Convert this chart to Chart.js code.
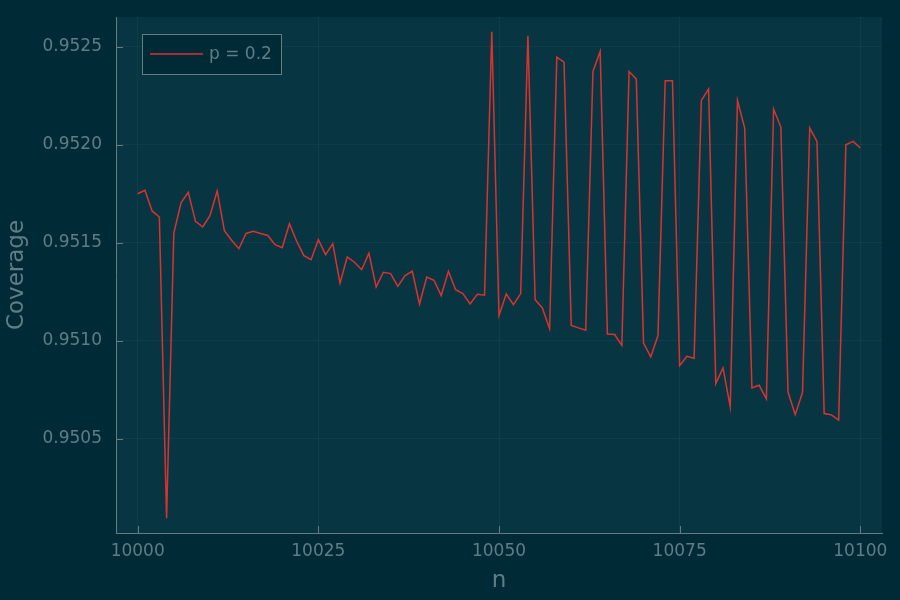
<!DOCTYPE html>
<html>
<head>
<meta charset="utf-8">
<title>Coverage</title>
<script src="https://cdn.jsdelivr.net/npm/chart.js@4.4.1/dist/chart.umd.min.js"></script>
<style>
    html, body { margin:0; padding:0; background:#002b36; }
    canvas { display:block; }
</style>
</head>
<body>
<canvas id="chart" width="900" height="600"></canvas>
<script>

// sample sizes n
const nValues = [
    10000,10001,10002,10003,10004,10005,10006,10007,10008,10009,
    10010,10011,10012,10013,10014,10015,10016,10017,10018,10019,
    10020,10021,10022,10023,10024,10025,10026,10027,10028,10029,
    10030,10031,10032,10033,10034,10035,10036,10037,10038,10039,
    10040,10041,10042,10043,10044,10045,10046,10047,10048,10049,
    10050,10051,10052,10053,10054,10055,10056,10057,10058,10059,
    10060,10061,10062,10063,10064,10065,10066,10067,10068,10069,
    10070,10071,10072,10073,10074,10075,10076,10077,10078,10079,
    10080,10081,10082,10083,10084,10085,10086,10087,10088,10089,
    10090,10091,10092,10093,10094,10095,10096,10097,10098,10099,
    10100
];

// coverage for p = 0.2
const coverage = [
    0.951750,0.951767,0.951662,0.951631,0.950093,0.951549,0.951703,0.951757,0.951609,0.951580,
    0.951638,0.951764,0.951561,0.951512,0.951469,0.951547,0.951558,0.951547,0.951537,0.951490,
    0.951474,0.951597,0.951507,0.951434,0.951413,0.951515,0.951439,0.951495,0.951293,0.951427,
    0.951400,0.951362,0.951446,0.951274,0.951349,0.951342,0.951277,0.951332,0.951354,0.951187,
    0.951325,0.951308,0.951230,0.951354,0.951260,0.951240,0.951187,0.951237,0.951232,0.952577,
    0.951128,0.951238,0.951184,0.951240,0.952556,0.951209,0.951167,0.951061,0.952447,0.952422,
    0.951078,0.951065,0.951053,0.952374,0.952476,0.951034,0.951031,0.950976,0.952374,0.952335,
    0.950988,0.950917,0.951026,0.952327,0.952327,0.950872,0.950920,0.950910,0.952226,0.952284,
    0.950781,0.950861,0.950662,0.952226,0.952085,0.950759,0.950772,0.950703,0.952182,0.952090,
    0.950736,0.950622,0.950736,0.952085,0.952017,0.950628,0.950621,0.950594,0.952000,0.952017,
    0.951983
];

const seriesLabel = "p = 0.2";

const xTicks = [10000, 10025, 10050, 10075, 10100];
const yTicks = [0.9505, 0.9510, 0.9515, 0.9520, 0.9525];


const textColor = "#5f7d85";
const axisColor = "#657b83";
const gridColor = "rgba(147,161,161,0.07)";
const lineColor = "#dc322f";
const fontFamily = "'DejaVu Sans', sans-serif";


// plot area background
const plotBackground = {
    id: "plotBackground",
    beforeDraw(chart){
        const a = chart.chartArea;
        const ctx = chart.ctx;
        ctx.save();
        ctx.fillStyle = "#073642";
        ctx.fillRect(a.left, a.top, a.right - a.left, a.bottom - a.top);
        ctx.restore();
    }
};


// short tick marks pointing into the plot
const innerTicks = {
    id: "innerTicks",
    afterDraw(chart){
        const ctx = chart.ctx;
        const a = chart.chartArea;
        const x = chart.scales.x;
        const y = chart.scales.y;
        ctx.save();
        ctx.strokeStyle = axisColor;
        ctx.lineWidth = 1;
        ctx.beginPath();
        xTicks.forEach(v => {
            const px = Math.round(x.getPixelForValue(v)) + 0.5;
            ctx.moveTo(px, a.bottom);
            ctx.lineTo(px, a.bottom - 7);
        });
        yTicks.forEach(v => {
            const py = Math.round(y.getPixelForValue(v)) + 0.5;
            ctx.moveTo(a.left, py);
            ctx.lineTo(a.left + 7, py);
        });
        ctx.stroke();
        ctx.restore();
    }
};


// legend box in the top left corner
const cornerLegend = {
    id: "cornerLegend",
    afterDraw(chart){
        const ctx = chart.ctx;
        const ds = chart.data.datasets[0];
        ctx.save();
        ctx.fillStyle = "#002b36";
        ctx.fillRect(142, 34, 139, 40);
        ctx.strokeStyle = axisColor;
        ctx.lineWidth = 1;
        ctx.strokeRect(142.5, 34.5, 139, 40);
        ctx.strokeStyle = ds.borderColor;
        ctx.lineWidth = 1.5;
        ctx.beginPath();
        ctx.moveTo(150, 54);
        ctx.lineTo(203, 54);
        ctx.stroke();
        ctx.fillStyle = textColor;
        ctx.font = "17px " + fontFamily;
        ctx.textBaseline = "middle";
        ctx.fillText(ds.label, 209, 55);
        ctx.restore();
    }
};


function drawChart(){

    const canvas = document.getElementById("chart");

    new Chart(canvas, {

        type: "line",

        data: {
            datasets: [
                {
                    label: seriesLabel,
                    data: nValues.map((n, i) => ({x: n, y: coverage[i]})),
                    borderColor: lineColor,
                    borderWidth: 1.5,
                    pointRadius: 0,
                    tension: 0,
                    fill: false
                }
            ]
        },

        options: {
            responsive: false,
            animation: false,
            devicePixelRatio: 1,
            layout: {
                padding: {left: 0, right: 18, top: 17, bottom: 0}
            },
            plugins: {
                legend: {display: false},
                tooltip: {enabled: false}
            },
            scales: {
                x: {
                    type: "linear",
                    min: 9997,
                    max: 10103,
                    afterBuildTicks: scale => {
                        scale.ticks = xTicks.map(v => ({value: v}));
                    },
                    afterFit: scale => {
                        scale.height = 67;
                        scale.paddingLeft = 0;
                        scale.paddingRight = 0;
                    },
                    ticks: {
                        color: textColor,
                        padding: 8,
                        maxRotation: 0,
                        font: {family: fontFamily, size: 17},
                        callback: v => String(v)
                    },
                    grid: {
                        color: gridColor,
                        drawTicks: false
                    },
                    border: {color: axisColor, width: 1},
                    title: {
                        display: true,
                        text: "n",
                        color: textColor,
                        font: {family: fontFamily, size: 23},
                        padding: {top: 0, bottom: 5}
                    }
                },
                y: {
                    min: 0.950018,
                    max: 0.952652,
                    afterBuildTicks: scale => {
                        scale.ticks = yTicks.map(v => ({value: v}));
                    },
                    afterFit: scale => {
                        scale.width = 116;
                        scale.paddingTop = 0;
                        scale.paddingBottom = 0;
                    },
                    ticks: {
                        color: textColor,
                        padding: 14,
                        font: {family: fontFamily, size: 17},
                        callback: v => v.toFixed(4)
                    },
                    grid: {
                        color: gridColor,
                        drawTicks: false
                    },
                    border: {color: axisColor, width: 1},
                    title: {
                        display: true,
                        text: "Coverage",
                        color: textColor,
                        font: {family: fontFamily, size: 23},
                        padding: {top: 3, bottom: 0}
                    }
                }
            }
        },

        plugins: [plotBackground, innerTicks, cornerLegend]

    });

}


document.addEventListener("DOMContentLoaded", drawChart);

</script>
</body>
</html>
